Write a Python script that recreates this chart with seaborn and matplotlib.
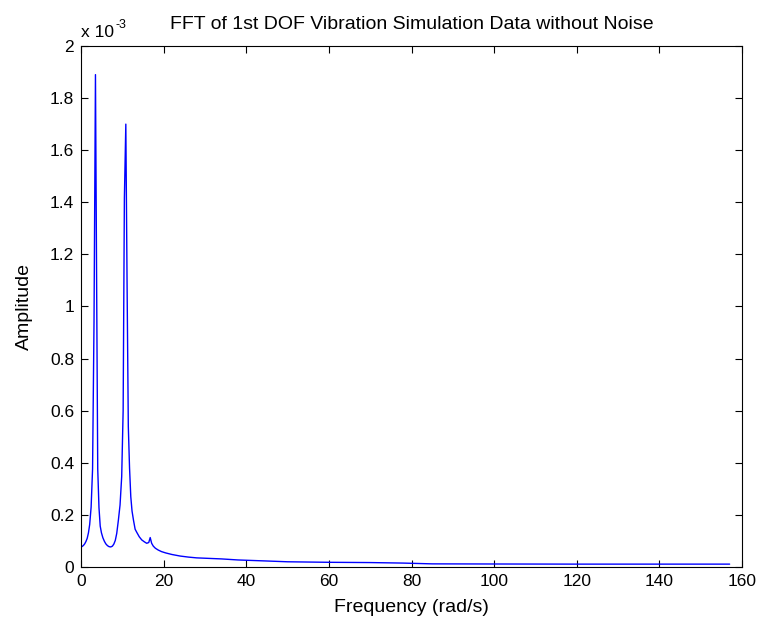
import matplotlib
matplotlib.use("Agg")
import matplotlib.pyplot as plt
import seaborn as sns
import pandas as pd

# Frequency (rad/s) and FFT amplitude (x 1e-3)
freq = [0.0, 0.3, 0.6, 0.9, 1.2, 1.5, 1.8, 2.1, 2.45, 2.8, 3.15, 3.5, 3.8, 4.05,
        4.35, 4.65, 4.95, 5.3, 5.65, 6.0, 6.4, 6.8, 7.2, 7.6, 7.95, 8.3, 8.65,
        9.05, 9.45, 9.85, 10.2, 10.5, 10.85, 11.15, 11.45, 11.75, 12.05, 12.35,
        12.7, 13.1, 13.5, 14.1, 14.7, 15.3, 15.9, 16.4, 16.75, 17.1, 17.5, 18.0,
        18.7, 19.5, 20.5, 22.0, 24.0, 26.0, 28.0, 31.0, 34.0, 38.0, 45.0, 50.0,
        60.0, 70.0, 78.0, 85.0, 100.0, 120.0, 140.0, 157.0]
amp_e3 = [0.077, 0.079, 0.083, 0.089, 0.098, 0.110, 0.131, 0.163, 0.230, 0.376,
          0.940, 1.890, 1.040, 0.376, 0.228, 0.157, 0.131, 0.112, 0.099, 0.089,
          0.082, 0.078, 0.077, 0.080, 0.088, 0.102, 0.129, 0.180, 0.238, 0.347,
          0.600, 1.415, 1.700, 1.090, 0.540, 0.380, 0.270, 0.215, 0.180, 0.145,
          0.133, 0.116, 0.104, 0.097, 0.091, 0.094, 0.113, 0.091, 0.080, 0.072,
          0.065, 0.059, 0.054, 0.048, 0.042, 0.038, 0.035, 0.033, 0.031, 0.027,
          0.023, 0.020, 0.018, 0.017, 0.015, 0.012, 0.0115, 0.011, 0.011, 0.011]

x_ticks = [0, 20, 40, 60, 80, 100, 120, 140, 160]
y_ticks = [0, 0.2, 0.4, 0.6, 0.8, 1.0, 1.2, 1.4, 1.6, 1.8, 2.0]
y_ticklabels = ["0", "0.2", "0.4", "0.6", "0.8", "1", "1.2", "1.4", "1.6", "1.8", "2"]

df = pd.DataFrame({"Frequency": freq, "Amplitude": amp_e3})

sns.set_theme(style="ticks")
plt.rcParams["font.family"] = ["Liberation Sans", "DejaVu Sans"]
plt.rcParams["text.color"] = "black"
plt.rcParams["axes.labelcolor"] = "black"

fig = plt.figure(figsize=(7.62, 6.23), dpi=100)
fig.patch.set_facecolor("white")
ax = fig.add_axes([0.1063, 0.0899, 0.8675, 0.8363])

sns.lineplot(data=df, x="Frequency", y="Amplitude", ax=ax, color="#0000ff",
             linewidth=1.0, estimator=None, sort=False)

ax.set_xlim(0, 160)
ax.set_ylim(0, 2.0)
ax.set_xticks(x_ticks)
ax.set_xticklabels([str(t) for t in x_ticks])
ax.set_yticks(y_ticks)
ax.set_yticklabels(y_ticklabels)

fs_tick = 12.5
fs_lab = 14
ax.tick_params(direction="in", length=5, width=0.8, labelsize=fs_tick,
               top=True, right=True, colors="black", pad=5)
for s in ax.spines.values():
    s.set_visible(True)
    s.set_color("black")
    s.set_linewidth(0.8)

ax.set_xlabel("Frequency (rad/s)", fontsize=fs_lab, labelpad=7, color="black")
ax.set_ylabel("Amplitude", fontsize=fs_lab, labelpad=12, color="black")
ax.set_title("FFT of 1st DOF Vibration Simulation Data without Noise",
             fontsize=fs_lab, pad=12, color="black")
t = ax.text(0.0, 1.012, "x 10", transform=ax.transAxes,
            fontsize=fs_tick, ha="left", va="bottom", color="black")
ax.annotate("-3", xy=(1.0, 0.95), xycoords=t, xytext=(1, 0),
            textcoords="offset points", fontsize=9, ha="left", va="center",
            color="black")

fig.savefig("out.png", dpi=100, facecolor="white")
